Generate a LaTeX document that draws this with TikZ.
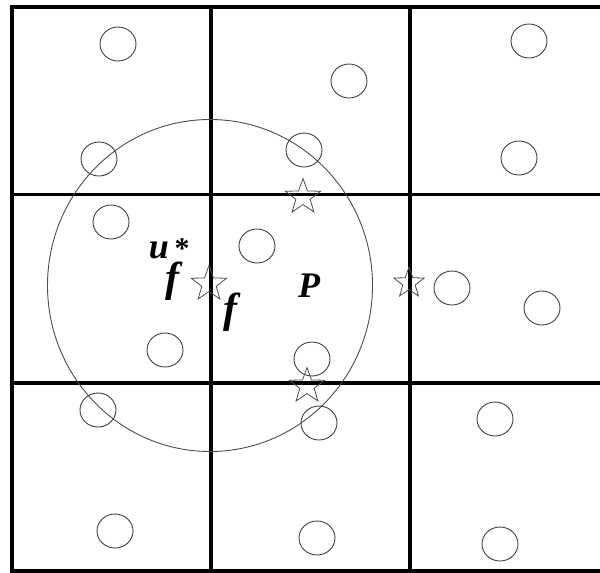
\documentclass[tikz,border=0pt]{standalone}
\usepackage{fontspec}
\setmainfont{Liberation Serif}
\newfontfamily\labfont{Liberation Serif}
\usetikzlibrary{shapes.geometric}
\begin{document}
\begin{tikzpicture}[x=1pt,y=-1pt,
  grid/.style={line width=3.4pt,black},
  dot/.style={draw=black!75,line width=0.9pt,ellipse,minimum width=36pt,minimum height=34pt,inner sep=0pt},
  big/.style={draw=black!70,line width=0.9pt,ellipse,minimum width=325pt,minimum height=332pt,inner sep=0pt},
  mark star/.style={draw=black!70,line width=0.8pt,star,star points=5,star point ratio=2.45,minimum size=37pt,inner sep=0pt},
  lab/.style={inner sep=0pt}]
\useasboundingbox (0,0) rectangle (600,573);
% grid
\coordinate (tl) at (12,7);
\coordinate (bl) at (12,571);
\coordinate (v1t) at (211,7);
\coordinate (v1b) at (211,571);
\coordinate (v2t) at (410,7);
\coordinate (v2b) at (410,571);
\coordinate (tr) at (600,7);
\coordinate (br) at (600,571);
\coordinate (h1l) at (12,194.5);
\coordinate (h1r) at (600,194.5);
\coordinate (h2l) at (12,383);
\coordinate (h2r) at (600,383);
\draw[grid] (tr) -- (tl) -- (bl) -- (br);
\draw[grid] (v1t) -- (v1b);
\draw[grid] (v2t) -- (v2b);
\draw[grid] (h1l) -- (h1r);
\draw[grid] (h2l) -- (h2r);
% big circle
\node[big] (range) at (210,285.5) {};
% small circles
\node[dot] (c1) at (118,44) {};
\node[dot] (c2) at (99,159) {};
\node[dot] (c3) at (349,81) {};
\node[dot] (c4) at (304,150) {};
\node[dot] (c5) at (529,41) {};
\node[dot] (c6) at (519,158) {};
\node[dot] (c7) at (111,222) {};
\node[dot] (c8) at (257,246) {};
\node[dot] (c9) at (165,350) {};
\node[dot] (c10) at (312,359) {};
\node[dot] (c11) at (452,288) {};
\node[dot] (c12) at (542,308) {};
\node[dot] (c13) at (98,410) {};
\node[dot] (c14) at (115,531) {};
\node[dot] (c15) at (319,423) {};
\node[dot] (c16) at (317,538) {};
\node[dot] (c17) at (495,419) {};
\node[dot] (c18) at (500,544) {};
% stars
\node[mark star] (s1) at (303,197) {};
\node[mark star] (s2) at (209,284) {};
\node[mark star,minimum size=32pt] (s3) at (409,283) {};
\node[mark star] (s4) at (307,386) {};
% labels
\node[lab,font=\labfont\fontsize{36pt}{36pt}\selectfont\bfseries\itshape] (u) at (159,250) {u};
\node[lab,font=\labfont\fontsize{30pt}{30pt}\selectfont\bfseries] (ast) at (182,249) {*};
\node[lab,font=\labfont\fontsize{42pt}{42pt}\selectfont\bfseries\itshape] (f1) at (172,281) {f};
\node[lab,font=\labfont\fontsize{42pt}{42pt}\selectfont\bfseries\itshape] (f2) at (230,312) {f};
\node[lab,font=\labfont\fontsize{36pt}{36pt}\selectfont\bfseries\itshape] (P) at (309,286) {P};
\end{tikzpicture}
\end{document}
